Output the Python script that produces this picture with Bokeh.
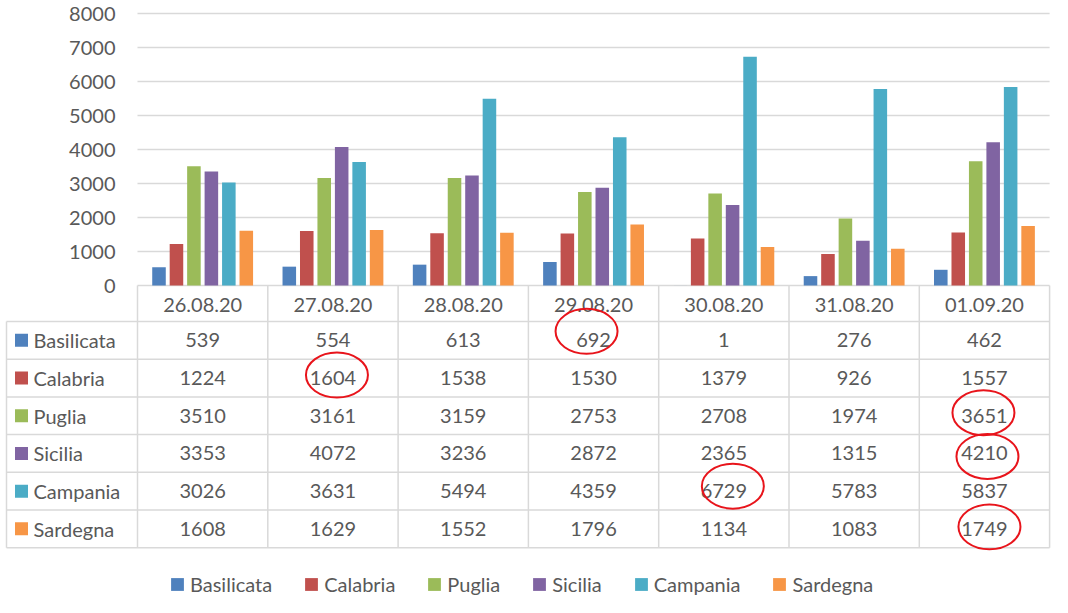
from bokeh.plotting import figure
from bokeh.models import Range1d, ColumnDataSource
from bokeh.core.properties import value
from bokeh.embed import file_html
from bokeh.resources import INLINE

# ---------------- data ----------------
dates = ["26.08.20", "27.08.20", "28.08.20", "29.08.20", "30.08.20", "31.08.20", "01.09.20"]
regions = ["Basilicata", "Calabria", "Puglia", "Sicilia", "Campania", "Sardegna"]
basilicata = [539, 554, 613, 692, 1, 276, 462]
calabria = [1224, 1604, 1538, 1530, 1379, 926, 1557]
puglia = [3510, 3161, 3159, 2753, 2708, 1974, 3651]
sicilia = [3353, 4072, 3236, 2872, 2365, 1315, 4210]
campania = [3026, 3631, 5494, 4359, 6729, 5783, 5837]
sardegna = [1608, 1629, 1552, 1796, 1134, 1083, 1749]
y_ticks = [0, 1000, 2000, 3000, 4000, 5000, 6000, 7000, 8000]
# cells circled in red in the picture: (date, region)
circled = [("29.08.20", "Basilicata"), ("27.08.20", "Calabria"), ("01.09.20", "Puglia"),
           ("01.09.20", "Sicilia"), ("30.08.20", "Campania"), ("01.09.20", "Sardegna")]

series = [basilicata, calabria, puglia, sicilia, campania, sardegna]
colors = ["#4F81BD", "#C0504D", "#9BBB59", "#8064A2", "#4BACC6", "#F79646"]
# small offsets (px) of each hand-drawn ellipse relative to its cell centre
circle_offsets = [(-7, -9), (4, -3), (-1, -3), (3, 3), (9, -5), (5, -2)]

# ---------------- layout helpers (figure px -> data) ----------------
W, H = 1052, 597
COLW = 130.3
X0 = 137.0          # left edge of plot area (px)
Y0 = 285.0          # px y of value 0
PPU = 272.0 / 8000  # px per unit
ROW_TOP = 321.0     # bottom of date header row
ROW_H = 37.7
TEXT = "#595959"
LINE = "#D9D9D9"
FONT = value("Lato")


def sx(px):
    return (px - X0) / COLW


def sy(py):
    return (Y0 - py) / PPU


p = figure(width=W, height=H,
           x_range=Range1d(sx(0), sx(W)),
           y_range=Range1d(sy(H), sy(0)),
           x_axis_location=None, y_axis_location=None,
           output_backend="svg", toolbar_location=None, min_border=0)
p.grid.visible = False
p.outline_line_color = None
p.background_fill_color = "white"
p.border_fill_color = "white"

n = len(dates)
ncol_left = sx(6)

# gridlines (only across plot area)
p.segment(x0=[0] * len(y_ticks), x1=[n] * len(y_ticks), y0=y_ticks, y1=y_ticks,
          line_color=LINE, line_width=1.5)

# y tick labels
p.text(x=[sx(115)] * len(y_ticks), y=y_ticks, text=[str(t) for t in y_ticks],
       text_align="right", text_baseline="middle", text_font=FONT,
       text_font_size="20px", text_color=TEXT)

# bars
pitch = 0.134
bw = 0.104
for k, (name, vals, col) in enumerate(zip(regions, series, colors)):
    off = (k - 2.5) * pitch
    src = ColumnDataSource(dict(x=[i + 0.5 + off for i in range(n)], top=vals))
    p.vbar(x="x", top="top", bottom=0, width=bw, source=src,
           fill_color=col, line_color=None, legend_label=name)

# ---------------- data table ----------------
row_lines = [ROW_TOP + r * ROW_H for r in range(len(regions) + 1)]
p.segment(x0=[ncol_left] * len(row_lines), x1=[n] * len(row_lines),
          y0=[sy(v) for v in row_lines], y1=[sy(v) for v in row_lines],
          line_color=LINE, line_width=1.5)
p.segment(x0=list(range(n + 1)), x1=list(range(n + 1)),
          y0=[0] * (n + 1), y1=[sy(row_lines[-1])] * (n + 1),
          line_color=LINE, line_width=1.5)
p.segment(x0=[ncol_left], x1=[ncol_left], y0=[sy(row_lines[0])], y1=[sy(row_lines[-1])],
          line_color=LINE, line_width=1.5)

# header (dates)
p.text(x=[i + 0.5 for i in range(n)], y=[sy((Y0 + ROW_TOP) / 2 + 1)] * n, text=dates,
       text_align="center", text_baseline="middle", text_font=FONT,
       text_font_size="20px", text_color=TEXT)

# row labels with keys
row_centers = [sy(ROW_TOP + (r + 0.5) * ROW_H) for r in range(len(regions))]
p.rect(x=[sx(21)] * len(regions), y=row_centers, width=13, height=13,
       width_units="screen", height_units="screen", fill_color=colors, line_color=None)
p.text(x=[sx(33)] * len(regions), y=row_centers, text=regions,
       text_align="left", text_baseline="middle", text_font=FONT,
       text_font_size="20px", text_color=TEXT)

# values
vx, vy, vt = [], [], []
for r, vals in enumerate(series):
    for i, v in enumerate(vals):
        vx.append(i + 0.5)
        vy.append(row_centers[r])
        vt.append(str(v))
p.text(x=vx, y=vy, text=vt, text_align="center", text_baseline="middle",
       text_font=FONT, text_font_size="20px", text_color=TEXT)

# red hand-drawn ellipses
ex, ey = [], []
for (d, reg), (dx, dy) in zip(circled, circle_offsets):
    i = dates.index(d)
    r = regions.index(reg)
    ex.append(i + 0.5 + dx / COLW)
    ey.append(row_centers[r] - dy / PPU)
p.ellipse(x=ex, y=ey, width=62, height=45, width_units="screen", height_units="screen",
          fill_color=None, line_color="#E8141B", line_width=2)

# ---------------- legend ----------------
lg = p.legend[0]
lg.orientation = "horizontal"
lg.location = (169, 1)
lg.glyph_width = 16
lg.glyph_height = 16
lg.label_standoff = 5
lg.spacing = 31
lg.padding = 0
lg.margin = 0
lg.border_line_color = None
lg.background_fill_alpha = 0
lg.label_text_font = "Lato"
lg.label_text_font_size = "20px"
lg.label_text_color = TEXT
lg.label_height = 18

open("out.html", "w").write(file_html(p, INLINE))
